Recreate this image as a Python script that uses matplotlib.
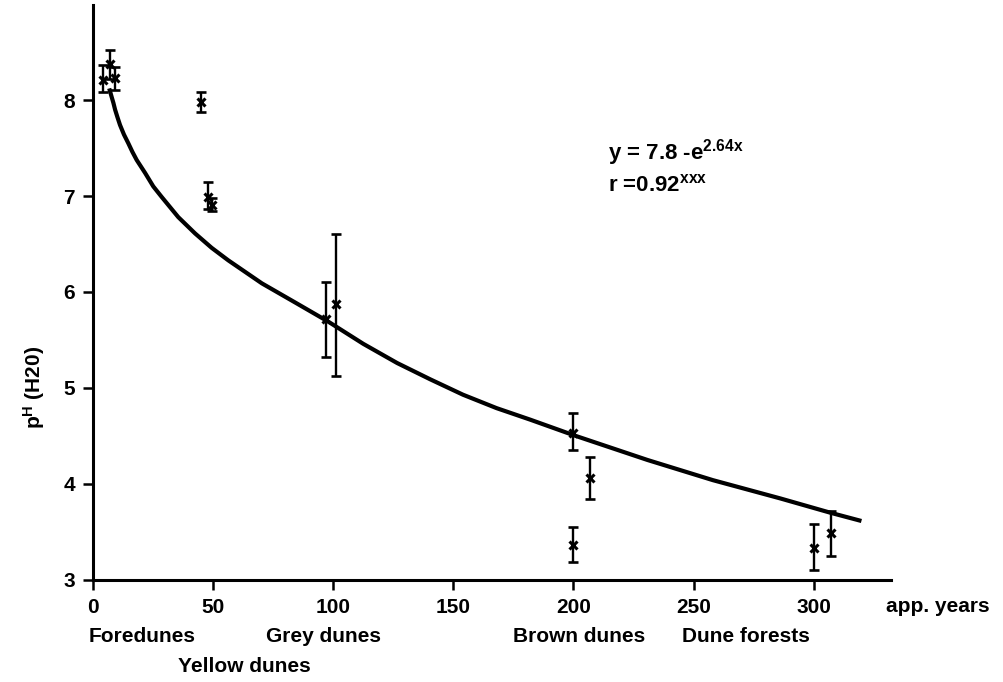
import numpy as np
import matplotlib
matplotlib.use('Agg')
import matplotlib.pyplot as plt
import matplotlib.transforms as mtransforms

plt.rcParams['font.family'] = ['Liberation Sans', 'DejaVu Sans']
plt.rcParams['font.weight'] = 'bold'
plt.rcParams['mathtext.fontset'] = 'custom'
plt.rcParams['mathtext.rm'] = 'Liberation Sans:bold'

#Measured points (years, pH) with lower/upper error
years = [4, 7, 9, 45, 48, 49.5, 97, 101, 200, 207, 200, 300, 307]
ph = [8.21, 8.38, 8.23, 7.98, 6.99, 6.91, 5.72, 5.87, 4.53, 4.06, 3.36, 3.33, 3.49]
ph_low = [8.08, 8.22, 8.10, 7.87, 6.86, 6.84, 5.32, 5.13, 4.35, 3.84, 3.19, 3.10, 3.25]
ph_high = [8.36, 8.52, 8.34, 8.08, 7.15, 6.98, 6.10, 6.60, 4.74, 4.28, 3.55, 3.58, 3.72]

#Fitted curve
curve_x = [7, 7.8, 8.5, 9.2, 10.2, 11.25, 12.9, 14.7, 16.4, 18.2, 21.7, 25.1, 28.6, 35.5,
           42.5, 49.4, 56.3, 63.3, 70.3, 84.2, 98, 112.5, 126.6, 140.4, 154, 168, 182, 201,
           230.8, 258, 286, 307, 319]
curve_y = [8.10, 8.03, 7.97, 7.90, 7.82, 7.74, 7.64, 7.55, 7.46, 7.375, 7.24, 7.10, 6.99,
           6.78, 6.61, 6.46, 6.33, 6.21, 6.09, 5.89, 5.69, 5.46, 5.26, 5.09, 4.93, 4.79,
           4.67, 4.50, 4.25, 4.04, 3.85, 3.70, 3.62]

#Dune stages under the axis
stages = ['Foredunes', 'Yellow dunes', 'Grey dunes', 'Brown dunes', 'Dune forests']
stage_x = [-2, 35.5, 72, 175, 245]
stage_row = [0, 1, 0, 0, 0]

xticks = [0, 50, 100, 150, 200, 250, 300]
yticks = [3, 4, 5, 6, 7, 8]

fs = 15

fig = plt.figure(figsize=(10.04, 6.82), dpi=100)
ax = fig.add_axes([0.0926, 0.1496, 0.7945, 0.8431])

ph = np.array(ph)
yerr = [ph - np.array(ph_low), np.array(ph_high) - ph]
ax.errorbar(years, ph, yerr=yerr, fmt='none', ecolor='black', elinewidth=1.7,
            capsize=3.5, capthick=1.9)
ax.plot(years, ph, linestyle='none', marker='x', color='black', markersize=6, mew=2.2)
ax.plot(curve_x, curve_y, color='black', linewidth=3, solid_joinstyle='round')

ax.set_xlim(0, 332)
ax.set_ylim(3, 8.99)
ax.set_xticks(xticks)
ax.set_yticks(yticks)
ax.tick_params(direction='out', length=7, width=1.8, labelsize=fs, pad=6)
for s in ['top', 'right']:
    ax.spines[s].set_visible(False)
for s in ['left', 'bottom']:
    ax.spines[s].set_linewidth(2.2)

ax.set_ylabel('$\\mathregular{p^H}$ (H20)', fontsize=fs, fontweight='bold')
ax.yaxis.set_label_coords(-0.058, 0.335)

trans = mtransforms.blended_transform_factory(ax.transData, ax.transAxes)
ax.text(330, -0.047, 'app. years', transform=trans, fontsize=fs, ha='left', va='center', clip_on=False)
for name, sx, row in zip(stages, stage_x, stage_row):
    ax.text(sx, -0.098 - 0.052 * row, name, transform=trans, fontsize=fs,
            ha='left', va='center', clip_on=False)

ax.text(0.646, 0.744, 'y = 7.8 -e$^{\\mathregular{2.64x}}$', transform=ax.transAxes,
        fontsize=16, ha='left', va='center')
ax.text(0.646, 0.687, 'r =0.92$^{\\mathregular{xxx}}$', transform=ax.transAxes,
        fontsize=16, ha='left', va='center')

plt.savefig('out.png', dpi=100)
